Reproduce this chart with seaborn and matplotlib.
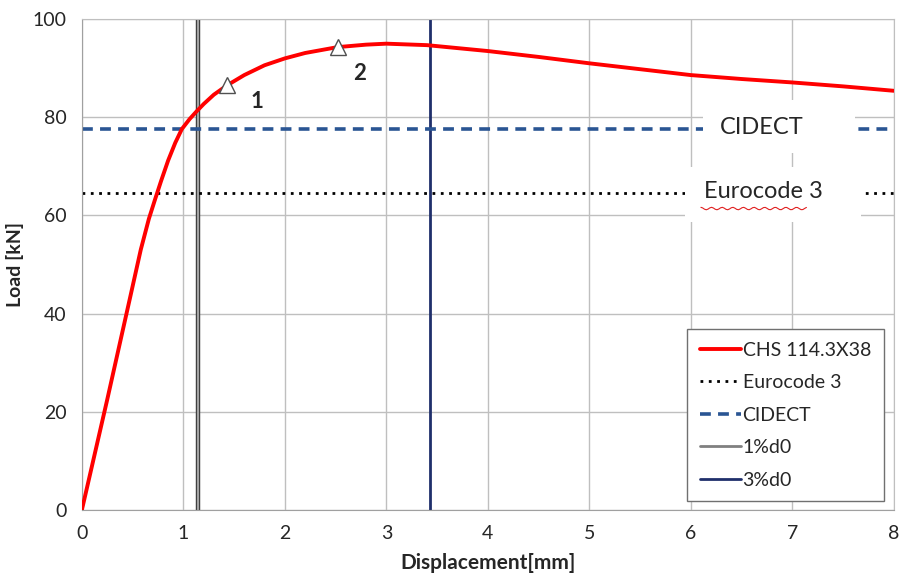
"""Load-displacement curve of CHS 114.3X38 with code resistance levels."""

import matplotlib

matplotlib.use("Agg")
import matplotlib.pyplot as plt
import numpy as np
import pandas as pd
import seaborn as sns
from matplotlib.patches import Rectangle

# curve
displacement = [0.0, 0.25, 0.47, 0.58, 0.66, 0.72, 0.78, 0.85, 0.92, 0.985, 1.06, 1.13,
                1.2, 1.3, 1.43, 1.6, 1.8, 2.0, 2.2, 2.52, 2.8, 3.0, 3.4, 4.0, 4.5,
                5.0, 5.5, 6.0, 6.5, 7.0, 7.5, 8.0]
load = [0.0, 22.5, 42.8, 53.0, 59.3, 63.2, 67.0, 71.2, 74.8, 77.6, 79.6, 81.2,
        82.7, 84.6, 86.5, 88.6, 90.6, 92.0, 93.1, 94.3, 94.8, 95.0, 94.7, 93.5,
        92.3, 91.0, 89.8, 88.6, 87.8, 87.1, 86.3, 85.4]

eurocode_load = 64.6
cidect_load = 77.6
d0_1pct = 1.143
d0_3pct = 3.43

marker_x = [1.43, 2.52]
marker_y = [86.5, 94.3]
marker_labels = ["1", "2"]
label_x = [1.73, 2.74]
label_y = [83.3, 89.0]

x_ticks = [0, 1, 2, 3, 4, 5, 6, 7, 8]
y_ticks = [0, 20, 40, 60, 80, 100]


def main() -> None:
    sns.set_style("whitegrid")
    plt.rcParams["font.family"] = ["Lato", "DejaVu Sans"]

    curve = pd.DataFrame({"Displacement": displacement, "Load": load})

    fig = plt.figure(figsize=(9, 5.8), dpi=100)
    ax = fig.add_axes([0.091, 0.121, 0.902, 0.846])

    ax.axvline(d0_1pct, color="#404040", linewidth=3.2, zorder=2)
    ax.axvline(d0_1pct, color="#a6a6a6", linewidth=1.4, zorder=2)
    ax.axvline(d0_3pct, color="#1f2f6b", linewidth=2, zorder=2)
    ax.axhline(eurocode_load, color="black", linewidth=2, linestyle=(0, (1, 2)), zorder=2)
    ax.axhline(cidect_load, color="#2a5593", linewidth=2.6, linestyle=(0, (3, 2)), zorder=2)

    sns.lineplot(data=curve, x="Displacement", y="Load", color="#ff0000",
                 linewidth=2.8, ax=ax, zorder=3, sort=False)
    ax.plot(marker_x, marker_y, linestyle="none", marker="^", markersize=11,
            markerfacecolor="white", markeredgecolor="#505050", zorder=4)
    for lx, ly, text in zip(label_x, label_y, marker_labels):
        ax.text(lx, ly, text, fontsize=16, fontweight="bold", ha="center", va="center", zorder=4)

    # white label boxes that hide the grid and the reference lines
    ax.add_patch(Rectangle((6.12, 72.7), 1.5, 10.8, facecolor="white", edgecolor="none", zorder=5))
    ax.add_patch(Rectangle((5.94, 58.7), 1.74, 11.2, facecolor="white", edgecolor="none", zorder=5))
    ax.text(6.7, cidect_load + 0.3, "CIDECT", fontsize=17, ha="center", va="center", zorder=6)
    ax.text(6.72, eurocode_load + 0.3, "Eurocode 3", fontsize=17, ha="center", va="center", zorder=6)
    wave_x = np.linspace(6.1, 7.14, 60)
    ax.plot(wave_x, 61.4 + 0.25 * np.sin(wave_x * 60), color="#e02020",
            linewidth=0.8, zorder=7)

    ax.set_xlim(0, 8)
    ax.set_ylim(0, 100)
    ax.set_xticks(x_ticks)
    ax.set_yticks(y_ticks)
    ax.tick_params(labelsize=14, length=4, color="#a0a0a0", pad=7)
    ax.grid(True, color="#bfbfbf", linewidth=1)
    for spine in ax.spines.values():
        spine.set_color("#a0a0a0")
    ax.spines["top"].set_color("#bfbfbf")
    ax.spines["right"].set_color("#bfbfbf")

    ax.set_xlabel("Displacement[mm]", fontsize=15, fontweight="bold", labelpad=8)
    ax.set_ylabel("Load [kN]", fontsize=14, fontweight="bold", labelpad=6)

    handles = [
        plt.Line2D([], [], color="#ff0000", linewidth=2.8),
        plt.Line2D([], [], color="black", linewidth=2, linestyle=(0, (1, 2))),
        plt.Line2D([], [], color="#2a5593", linewidth=2.6, linestyle=(0, (3, 2))),
        plt.Line2D([], [], color="#808080", linewidth=2),
        plt.Line2D([], [], color="#1f2f6b", linewidth=2),
    ]
    names = ["CHS 114.3X38", "Eurocode 3", "CIDECT", "1%d0", "3%d0"]
    legend = ax.legend(handles, names, loc="lower right", bbox_to_anchor=(0.9875, 0.017),
                       fontsize=14, frameon=True, fancybox=False, handlelength=2.1,
                       handletextpad=0.1, labelspacing=0.8, borderpad=0.65,
                       borderaxespad=0)
    legend.get_frame().set_edgecolor("#707070")
    legend.get_frame().set_linewidth(1)
    legend.get_frame().set_alpha(1)

    fig.savefig("out.png", dpi=100)
    plt.close(fig)


if __name__ == "__main__":
    main()
